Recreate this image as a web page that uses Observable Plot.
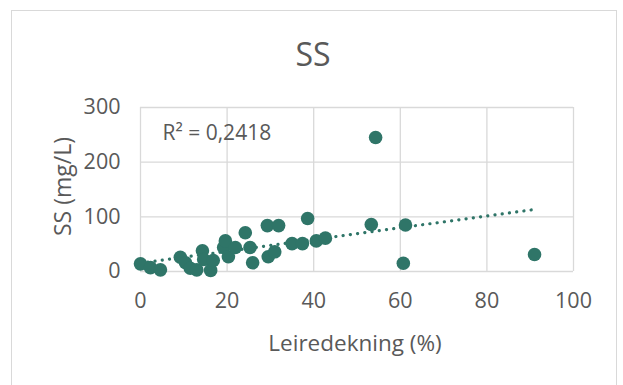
<!DOCTYPE html>
<html><head><meta charset="utf-8">
<script src="https://cdn.jsdelivr.net/npm/d3@7"></script>
<script src="https://cdn.jsdelivr.net/npm/@observablehq/plot@0.6"></script>
<style>
body{margin:0;background:#fff;}
#frame{position:absolute;left:11px;top:10px;width:606px;height:390px;border:1.5px solid #d9d9d9;box-sizing:border-box;}
#chart{position:absolute;left:0;top:0;}
</style></head><body>
<div id="frame"></div><div id="chart"></div>
<script>
const leiredekning = [0, 2.3, 4.6, 9.2, 10.4, 11.5, 13, 14.3, 14.6, 16.2, 16.8, 19.2, 19.6, 20.3, 21.9, 24.2, 25.3, 25.9, 29.3, 31.9, 29.5, 31, 35, 37.4, 38.6, 40.6, 42.7, 53.3, 54.3, 60.7, 61.2, 91];
const ss = [14, 7, 3, 26, 16, 6, 3, 38, 22, 2, 20, 44, 56, 27, 44, 71, 44, 16, 84, 84, 27, 36, 51, 51, 97, 56, 61, 86, 245, 15, 85, 31];
const xTicks = [0, 20, 40, 60, 80, 100];
const yTicks = [0, 100, 200, 300];
const title = "SS";
const xLabel = "Leiredekning (%)";
const yLabel = "SS (mg/L)";
const r2Label = "R² = 0,2418";

const data = leiredekning.map((x, i) => ({x, y: ss[i]}));
const color = "#2f7568";
const textColor = "#595959";

const plot = Plot.plot({
  width: 623, height: 385,
  marginLeft: 140, marginRight: 50, marginTop: 107, marginBottom: 114,
  style: {fontFamily: "Open Sans", fontSize: "21.5px", color: textColor, background: "transparent", overflow: "visible"},
  x: {domain: [0, 100]},
  y: {domain: [0, 300]},
  marks: [
    Plot.gridX(xTicks, {stroke: "#d9d9d9", strokeOpacity: 1, strokeWidth: 1.3}),
    Plot.gridY(yTicks, {stroke: "#d9d9d9", strokeOpacity: 1, strokeWidth: 1.3}),
    Plot.axisX({ticks: xTicks, tickSize: 0, tickPadding: 21, label: null, fill: textColor}),
    Plot.axisY({ticks: yTicks, tickSize: 0, tickPadding: 20, label: null, fill: textColor}),
    Plot.linearRegressionY(data, {x: "x", y: "y", stroke: color, strokeWidth: 3.2, strokeDasharray: "0.1,7.2", strokeLinecap: "round", ci: 0}),
    Plot.dot(data, {x: "x", y: "y", r: 6.8, fill: color}),
    Plot.text([r2Label], {text: d => d, frameAnchor: "top-left", textAnchor: "start", lineAnchor: "middle", dx: 22, dy: 26, fontSize: 21, fill: textColor}),
    Plot.text([title], {text: d => d, frameAnchor: "top", lineAnchor: "middle", dx: -44, dy: -52, fontSize: 32, fill: textColor}),
    Plot.text([xLabel], {text: d => d, frameAnchor: "bottom", lineAnchor: "middle", dx: -2, dy: 72, fontSize: 22.5, fill: textColor}),
    Plot.text([yLabel], {text: d => d, frameAnchor: "left", textAnchor: "middle", lineAnchor: "middle", rotate: -90, dx: -77, dy: -3, fontSize: 23, fill: textColor})
  ]
});
document.getElementById("chart").appendChild(plot);
</script>
</body></html>
